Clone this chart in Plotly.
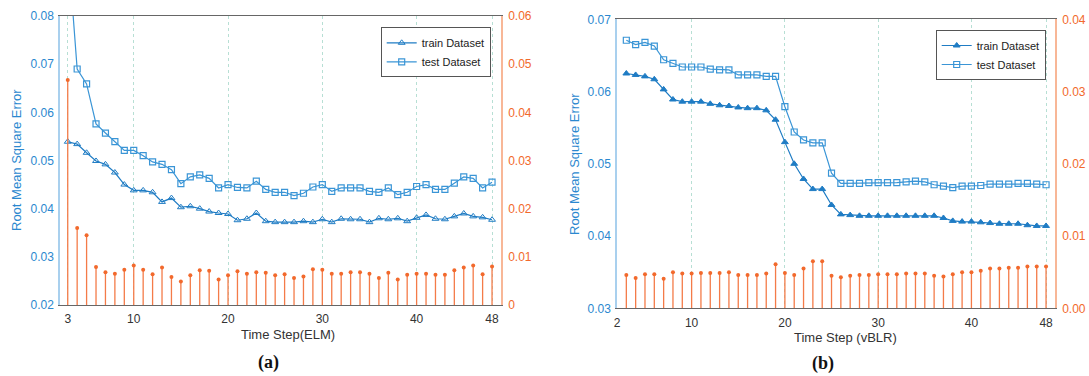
import plotly.graph_objects as go

W, H = 1089, 376

# ---------------- data (a) ELM ----------------
steps_a = list(range(3, 49))
train_a = [0.0539, 0.0534, 0.0516, 0.0499, 0.0492, 0.0475, 0.0450, 0.0438, 0.0438, 0.0434,
           0.0414, 0.0422, 0.0403, 0.0405, 0.0400, 0.0394, 0.0391, 0.0389, 0.0376, 0.0379,
           0.0391, 0.0374, 0.0372, 0.0372, 0.0372, 0.0374, 0.0372, 0.0378, 0.0372, 0.0379,
           0.0378, 0.0378, 0.0372, 0.0380, 0.0378, 0.0380, 0.0374, 0.0381, 0.0387, 0.0379,
           0.0378, 0.0384, 0.0390, 0.0384, 0.0382, 0.0377]
test_a = [0.0950, 0.0690, 0.0659, 0.0576, 0.0557, 0.0539, 0.0521, 0.0521, 0.0510, 0.0497,
          0.0492, 0.0481, 0.0452, 0.0466, 0.0470, 0.0463, 0.0443, 0.0450, 0.0444, 0.0443,
          0.0457, 0.0440, 0.0434, 0.0434, 0.0427, 0.0432, 0.0445, 0.0450, 0.0436, 0.0443,
          0.0443, 0.0443, 0.0436, 0.0434, 0.0443, 0.0429, 0.0434, 0.0446, 0.0450, 0.0440,
          0.0440, 0.0453, 0.0466, 0.0463, 0.0443, 0.0455]
diff_a = [0.0467, 0.0160, 0.0145, 0.0079, 0.0068, 0.0065, 0.0073, 0.0082, 0.0073, 0.0064,
          0.0078, 0.0058, 0.0049, 0.0062, 0.0072, 0.0071, 0.0053, 0.0062, 0.0070, 0.0065,
          0.0068, 0.0067, 0.0062, 0.0064, 0.0056, 0.0059, 0.0074, 0.0073, 0.0065, 0.0065,
          0.0068, 0.0068, 0.0065, 0.0056, 0.0067, 0.0053, 0.0063, 0.0065, 0.0065, 0.0063,
          0.0063, 0.0072, 0.0078, 0.0082, 0.0064, 0.0080]

# ---------------- data (b) vBLR ----------------
steps_b = list(range(3, 49))
train_b = [0.0625, 0.0623, 0.0621, 0.0617, 0.0603, 0.0589, 0.0586, 0.0586, 0.0586, 0.0583,
           0.0581, 0.0580, 0.0578, 0.0577, 0.0577, 0.0574, 0.0561, 0.0530, 0.0500, 0.0479,
           0.0465, 0.0465, 0.0443, 0.0430, 0.0429, 0.0428, 0.0428, 0.0428, 0.0428, 0.0428,
           0.0428, 0.0428, 0.0428, 0.0428, 0.0425, 0.0421, 0.0420, 0.0420, 0.0419, 0.0418,
           0.0417, 0.0417, 0.0417, 0.0415, 0.0414, 0.0414]
test_b = [0.0671, 0.0665, 0.0668, 0.0663, 0.0644, 0.0639, 0.0634, 0.0634, 0.0634, 0.0631,
          0.0630, 0.0630, 0.0623, 0.0623, 0.0623, 0.0621, 0.0621, 0.0579, 0.0544, 0.0533,
          0.0529, 0.0529, 0.0487, 0.0473, 0.0473, 0.0473, 0.0474, 0.0474, 0.0474, 0.0474,
          0.0475, 0.0476, 0.0475, 0.0471, 0.0469, 0.0467, 0.0469, 0.0469, 0.0470, 0.0472,
          0.0472, 0.0472, 0.0473, 0.0473, 0.0472, 0.0471]
diff_b = [0.0046, 0.0042, 0.0047, 0.0047, 0.0041, 0.0050, 0.0048, 0.0048, 0.0049, 0.0049,
          0.0049, 0.0050, 0.0046, 0.0046, 0.0046, 0.0048, 0.0061, 0.0049, 0.0046, 0.0055,
          0.0065, 0.0065, 0.0045, 0.0043, 0.0045, 0.0046, 0.0046, 0.0047, 0.0047, 0.0047,
          0.0048, 0.0048, 0.0048, 0.0045, 0.0044, 0.0047, 0.0050, 0.0050, 0.0052, 0.0055,
          0.0055, 0.0056, 0.0056, 0.0058, 0.0058, 0.0058]

xticks_a = [3, 10, 20, 30, 40, 48]
xticks_b = [2, 10, 20, 30, 40, 48]

BLUE = "#2b88cf"
BLUE_LINE = "#1f7cc4"
BLUE_TEST = "#3a95d6"
ORANGE = "#f2692c"
STEM = "#f47b48"
GRID = "#b7dfd4"
FONT = "Liberation Sans, Arial, sans-serif"

fig = go.Figure()

def add_panel(steps, train, test, diff, xa, ya, ya2, legend, tri_symbol):
    fig.add_trace(go.Scatter(
        x=steps, y=diff, xaxis=xa, yaxis=ya2, mode="markers",
        marker=dict(color=ORANGE, size=4),
        error_y=dict(type="data", symmetric=False, array=[0] * len(diff),
                     arrayminus=diff, width=0, thickness=1.3, color=STEM),
        showlegend=False, hoverinfo="skip"))
    fig.add_trace(go.Scatter(
        x=steps, y=train, xaxis=xa, yaxis=ya, mode="lines+markers", name="train Dataset",
        line=dict(color=BLUE_LINE, width=1.2),
        marker=dict(symbol=tri_symbol, size=6, color=BLUE_LINE, line=dict(color=BLUE_LINE, width=1)),
        legend=legend))
    fig.add_trace(go.Scatter(
        x=steps, y=test, xaxis=xa, yaxis=ya, mode="lines+markers", name="test Dataset",
        line=dict(color=BLUE_TEST, width=1.2),
        marker=dict(symbol="square-open", size=6, color=BLUE_TEST, line=dict(color=BLUE_TEST, width=1.2)),
        legend=legend))

add_panel(steps_a, train_a, test_a, diff_a, "x", "y", "y2", "legend", "triangle-up-open")
add_panel(steps_b, train_b, test_b, diff_b, "x2", "y3", "y4", "legend2", "triangle-up")

def px_x(v):
    return v / W

def px_y(v):
    return 1 - v / H

# panel geometry (pixels)
ax_l, ax_r, ax_t, ax_b = 60, 501, 16, 305
bx_l, bx_r, bx_t, bx_b = 617, 1055, 19.3, 308.3

xcommon = dict(showline=True, linecolor="#666666", linewidth=1, mirror=True,
               showgrid=True, gridcolor=GRID, griddash="dot", gridwidth=1,
               zeroline=False, ticks="", tickfont=dict(family=FONT, size=12, color="#333333"),
               ticklabelstandoff=3, automargin=False)
ycommon = dict(showgrid=False, zeroline=False, ticks="", showline=True, linewidth=1.5,
               automargin=False)

fig.update_layout(
    width=W, height=H, margin=dict(l=0, r=0, t=0, b=0, autoexpand=False),
    paper_bgcolor="white", plot_bgcolor="white",
    font=dict(family=FONT, size=12),
    xaxis=dict(domain=[px_x(ax_l), px_x(ax_r)], range=[2.18, 48.95], anchor="y",
               tickvals=xticks_a, **xcommon),
    yaxis=dict(domain=[px_y(ax_b), px_y(ax_t)], range=[0.02, 0.08], anchor="x",
               tickvals=[0.02, 0.03, 0.04, 0.05, 0.06, 0.07, 0.08], tickformat=".2f",
               tickfont=dict(family=FONT, size=12, color=BLUE), linecolor="#a9d0ee",
               ticklabelstandoff=2, **ycommon),
    yaxis2=dict(range=[0, 0.06], overlaying="y", side="right", anchor="x",
                tickvals=[0, 0.01, 0.02, 0.03, 0.04, 0.05, 0.06],
                ticktext=["0", "0.01", "0.02", "0.03", "0.04", "0.05", "0.06"],
                tickfont=dict(family=FONT, size=12, color=ORANGE), linecolor="#f8b797",
                ticklabelstandoff=3, **ycommon),
    xaxis2=dict(domain=[px_x(bx_l), px_x(bx_r)], range=[2, 48.96], anchor="y3",
                tickvals=xticks_b, **xcommon),
    yaxis3=dict(domain=[px_y(bx_b), px_y(bx_t)], range=[0.03, 0.07], anchor="x2",
                tickvals=[0.03, 0.04, 0.05, 0.06, 0.07], tickformat=".2f",
                tickfont=dict(family=FONT, size=12, color=BLUE), linecolor="#a9d0ee",
                ticklabelstandoff=2, **ycommon),
    yaxis4=dict(range=[0, 0.04], overlaying="y3", side="right", anchor="x2",
                tickvals=[0, 0.01, 0.02, 0.03, 0.04], tickformat=".2f",
                tickfont=dict(family=FONT, size=12, color=ORANGE), linecolor="#f8b797",
                ticklabelstandoff=3, **ycommon),
    legend=dict(x=px_x(490.7), y=px_y(27.3), xanchor="right", yanchor="top",
                bgcolor="white", bordercolor="#555555", borderwidth=1,
                font=dict(family=FONT, size=11, color="#222222"), tracegroupgap=0),
    legend2=dict(x=px_x(1045.7), y=px_y(30), xanchor="right", yanchor="top",
                 bgcolor="white", bordercolor="#555555", borderwidth=1,
                 font=dict(family=FONT, size=11, color="#222222"), tracegroupgap=0),
)

ann = [
    dict(text="Root Mean Square Error", x=px_x(17), y=px_y(160), textangle=-90,
         font=dict(family=FONT, size=13, color=BLUE)),
    dict(text="Time Step(ELM)", x=px_x(288), y=px_y(334),
         font=dict(family=FONT, size=13, color="#333333")),
    dict(text="<b>(a)</b>", x=px_x(268), y=px_y(362),
         font=dict(family="Liberation Serif, Times New Roman, serif", size=18, color="#111111")),
    dict(text="Root Mean Square Error", x=px_x(574), y=px_y(164), textangle=-90,
         font=dict(family=FONT, size=13, color=BLUE)),
    dict(text="Time Step (vBLR)", x=px_x(845), y=px_y(337.5),
         font=dict(family=FONT, size=13, color="#333333")),
    dict(text="<b>(b)</b>", x=px_x(823), y=px_y(363),
         font=dict(family="Liberation Serif, Times New Roman, serif", size=18, color="#111111")),
]
for a in ann:
    a.update(xref="paper", yref="paper", showarrow=False, xanchor="center", yanchor="middle")
fig.update_layout(annotations=ann)

fig.write_html("out.html", config={"displayModeBar": False},
               post_script="document.body.style.margin='0px';document.body.style.overflow='hidden';")
